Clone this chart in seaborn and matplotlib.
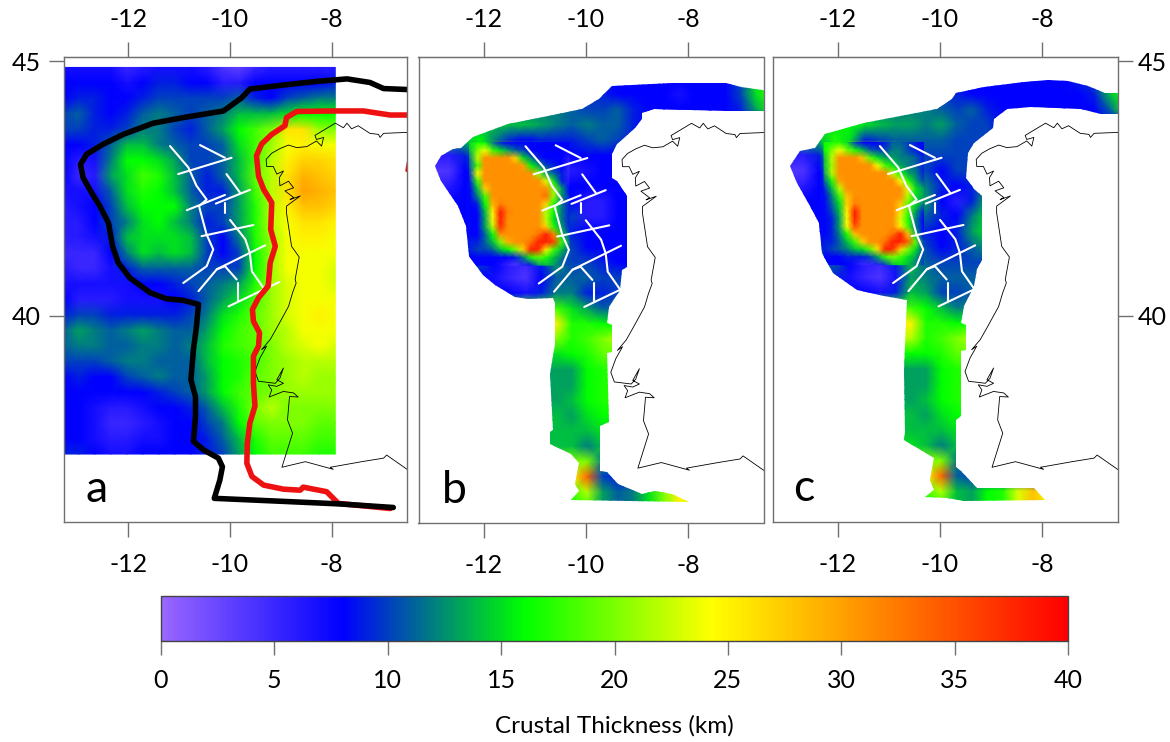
import matplotlib
matplotlib.use('Agg')
import matplotlib.pyplot as plt
import numpy as np
import pandas as pd
import seaborn as sns
from matplotlib.colors import LinearSegmentedColormap
from matplotlib.patches import Polygon
from matplotlib.transforms import Affine2D

# Tick values
lon_ticks = [-12, -10, -8]
lat_ticks = [40, 45]
thickness_ticks = [0, 5, 10, 15, 20, 25, 30, 35, 40]

# Colour scale stops
cmap_values = [0, 8, 16, 24.3, 40]
cmap_colors = ['#9966ff', '#0000ff', '#00ff00', '#ffff00', '#ff0000']

# Black and red contours of panel a
black_lon = [-6.49, -6.98, -7.25, -7.70, -8.30, -8.95, -9.61, -9.77, -10.13, -10.92, -11.51, -12.10, -12.49, -12.82,
             -12.94, -12.89, -12.72, -12.56, -12.39, -12.31, -12.20, -11.97, -11.57, -11.25, -10.92, -10.62, -10.66,
             -10.72, -10.77, -10.68, -10.68, -10.72, -10.52, -10.23, -10.15, -10.20, -10.31, -8.95, -7.84, -6.79]
black_lat = [44.44, 44.46, 44.58, 44.65, 44.60, 44.53, 44.45, 44.28, 44.02, 43.89, 43.78, 43.56, 43.37, 43.17,
             42.97, 42.71, 42.41, 42.15, 41.82, 41.36, 41.04, 40.74, 40.45, 40.33, 40.30, 40.22, 39.79,
             39.33, 38.74, 38.41, 38.02, 37.53, 37.36, 37.20, 37.03, 36.77, 36.41, 36.35, 36.30, 36.23]
red_lon = [-6.49, -6.85, -7.38, -7.97, -8.69, -8.89, -8.92, -9.18, -9.38, -9.48, -9.44, -9.34, -9.18, -9.20, -9.11,
           -9.21, -9.25, -9.44, -9.56, -9.54, -9.42, -9.44, -9.54, -9.54, -9.51, -9.61, -9.66, -9.67, -9.57, -9.34,
           -8.95, -8.62, -8.56, -8.10, -7.87, -6.85]
red_lat = [43.94, 43.94, 44.02, 44.02, 44.01, 43.89, 43.73, 43.56, 43.37, 43.14, 42.74, 42.48, 42.22, 41.69, 41.36,
           41.04, 40.58, 40.35, 40.12, 39.89, 39.66, 39.40, 39.20, 38.67, 38.22, 37.89, 37.49, 37.10, 36.84, 36.67,
           36.59, 36.57, 36.63, 36.54, 36.31, 36.21]
red_bit_lon = [-6.49, -6.52]
red_bit_lat = [43.02, 42.85]

# Coastline
coast_lon = [-6.49, -6.98, -7.05, -7.08, -7.25, -7.48, -7.61, -7.70, -7.77, -7.93, -8.33, -8.30, -8.16, -8.20, -8.30,
             -8.49, -8.69, -8.85, -9.02, -9.18, -9.29, -9.28, -9.15, -9.08, -8.95, -9.03, -9.02, -8.85, -8.75, -8.92,
             -8.75, -8.82, -8.62, -8.89, -8.89, -8.79, -8.64, -8.72, -8.70, -8.77, -8.85, -9.08, -9.21, -9.38, -9.28,
             -9.41, -9.51, -9.44, -9.11, -9.02, -8.95, -9.08, -8.95, -9.08, -9.25, -9.18, -9.23, -8.95, -8.75, -8.66,
             -8.83, -8.87, -8.77, -8.98, -8.52, -7.97, -8.03, -7.41, -6.98, -6.92, -6.49]
coast_lat = [43.60, 43.58, 43.50, 43.56, 43.58, 43.73, 43.67, 43.78, 43.69, 43.78, 43.54, 43.46, 43.50, 43.33, 43.43,
             43.32, 43.30, 43.35, 43.28, 43.19, 43.07, 42.93, 42.93, 42.78, 42.84, 42.71, 42.55, 42.64, 42.51, 42.45,
             42.32, 42.28, 42.35, 42.15, 42.02, 41.36, 41.15, 40.71, 40.64, 40.45, 40.18, 39.76, 39.53, 39.33, 39.40,
             39.17, 38.90, 38.71, 38.67, 38.77, 38.97, 38.74, 38.67, 38.61, 38.64, 38.54, 38.40, 38.51, 38.48, 38.40,
             38.41, 37.95, 37.69, 37.02, 37.13, 36.98, 37.02, 37.13, 37.20, 37.26, 36.96]

# White fault traces (lon, lat)
faults = [
    ([-11.18, -10.82, -10.66, -10.46, -10.61, -10.46, -10.33, -10.46, -10.92],
     [43.33, 42.91, 42.55, 42.28, 42.15, 41.59, 41.30, 40.97, 40.64]),
    ([-11.02, -9.97], [42.78, 43.10]),
    ([-10.59, -10.10], [43.35, 43.10]),
    ([-10.85, -10.10], [42.07, 42.37]),
    ([-10.28, -9.61], [42.20, 42.47]),
    ([-10.07, -9.80], [42.78, 42.41]),
    ([-10.10, -10.10], [42.22, 42.02]),
    ([-10.56, -9.54], [41.56, 41.78]),
    ([-10.00, -9.70, -9.61, -9.57, -9.34], [41.88, 41.50, 41.23, 40.87, 40.54]),
    ([-10.62, -10.26, -9.31], [40.48, 40.91, 41.38]),
    ([-10.26, -10.10, -9.87], [40.91, 40.97, 40.71]),
    ([-10.03, -9.03], [40.18, 40.66]),
    ([-9.84, -9.84], [40.64, 40.28]),
]

# Crustal thickness grids (km), rows north to south
thickness_a = [
    [7, 7, 7, 7, 5, 6, 7, 7, 7, 6, 4, 3, 5, 6, 6, 6, 6, 6],
    [8, 8, 8, 8, 7, 8, 9, 9, 8, 8, 6, 6, 8, 8, 8, 8, 8, 9],
    [8, 9, 9, 8, 8, 9, 10, 10, 10, 10, 10, 11, 9, 8, 10, 11, 12, 12],
    [10, 11, 9, 8, 9, 11, 12, 11, 10, 11, 12, 14, 14, 14, 15, 16, 16, 16],
    [10, 10, 9, 9, 10, 12, 12, 10, 9, 11, 13, 16, 18, 20, 26, 26, 21, 20],
    [8, 8, 9, 11, 14, 14, 12, 11, 10, 10, 11, 15, 18, 21, 24, 25, 24, 24],
    [8, 6, 7, 12, 16, 16, 15, 13, 10, 10, 11, 14, 18, 22, 25, 27, 27, 26],
    [8, 5, 6, 13, 15, 18, 17, 14, 11, 9, 11, 14, 19, 22, 26, 29, 28, 27],
    [7, 7, 7, 11, 15, 17, 16, 14, 11, 9, 9, 13, 18, 22, 26, 30, 29, 28],
    [6, 7, 8, 10, 14, 16, 16, 16, 12, 10, 10, 13, 17, 22, 25, 28, 28, 27],
    [6, 6, 8, 10, 12, 15, 16, 14, 12, 9, 10, 13, 17, 22, 24, 26, 26, 25],
    [6, 6, 7, 9, 14, 15, 15, 15, 14, 10, 8, 12, 17, 21, 24, 25, 25, 24],
    [5, 5, 5, 8, 12, 15, 14, 15, 14, 10, 8, 10, 16, 21, 24, 24, 24, 24],
    [6, 5, 5, 7, 9, 11, 11, 11, 11, 10, 10, 10, 16, 21, 24, 24, 24, 23],
    [7, 7, 7, 7, 7, 8, 8, 9, 10, 11, 12, 13, 17, 21, 23, 24, 24, 23],
    [8, 6, 6, 6, 7, 7, 7, 8, 9, 11, 13, 15, 18, 21, 23, 24, 24, 24],
    [9, 10, 10, 9, 9, 9, 9, 9, 10, 12, 15, 17, 19, 21, 23, 24, 25, 24],
    [11, 13, 12, 11, 12, 13, 12, 11, 11, 13, 16, 18, 19, 21, 22, 24, 24, 24],
    [11, 12, 12, 11, 11, 12, 12, 11, 12, 14, 17, 18, 19, 20, 22, 23, 24, 23],
    [10, 10, 10, 11, 12, 12, 11, 11, 11, 14, 16, 17, 18, 20, 21, 22, 22, 22],
    [8, 9, 8, 8, 10, 11, 12, 11, 11, 13, 16, 17, 19, 20, 21, 22, 21, 21],
    [8, 8, 8, 8, 8, 8, 9, 10, 11, 13, 16, 18, 19, 20, 21, 21, 21, 21],
    [8, 8, 7, 6, 6, 7, 8, 8, 9, 11, 14, 17, 20, 22, 20, 20, 20, 20],
    [8, 8, 7, 5, 5, 6, 7, 8, 8, 10, 12, 16, 19, 20, 20, 20, 19, 19],
    [8, 8, 7, 6, 6, 7, 7, 8, 8, 9, 11, 14, 17, 19, 19, 19, 18, 18],
    [9, 9, 8, 7, 7, 8, 8, 8, 8, 9, 10, 13, 16, 18, 18, 18, 17, 17],
]
thickness_b = [
    [9, 9, 9, 9, 9, 9, 9, 9, 9, 9, 9, 9, 9, 8, 8, 8, 8, 8, 8, 8, 8, 10, 15, 17],
    [10, 10, 10, 10, 10, 10, 10, 10, 10, 10, 10, 10, 9, 8, 8, 8, 8, 7, 8, 8, 8, 10, 15, 18],
    [12, 12, 12, 12, 12, 12, 12, 12, 12, 12, 11, 10, 10, 11, 9, 8, 8, 8, 8, 8, 8, 9, 13, 17],
    [14, 14, 14, 14, 13, 14, 14, 14, 13, 12, 11, 12, 11, 11, 9, 8, 8, 8, 8, 8, 8, 8, 8, 8],
    [8, 10, 12, 14, 16, 12, 9, 8, 9, 9, 9, 10, 11, 10, 9, 8, 8, 8, 8, 8, 8, 8, 8, 8],
    [6, 6, 6, 9, 12, 31, 30, 18, 13, 9, 8, 8, 8, 8, 8, 8, 8, 8, 8, 8, 8, 8, 8, 8],
    [4, 4, 4, 8, 9, 31, 31, 31, 20, 8, 6, 7, 8, 8, 8, 8, 8, 8, 8, 8, 8, 8, 8, 8],
    [5, 5, 6, 8, 9, 31, 31, 31, 30, 8, 8, 8, 8, 8, 8, 8, 8, 8, 8, 8, 8, 8, 8, 8],
    [7, 7, 8, 8, 9, 28, 31, 31, 30, 7, 8, 6, 6, 8, 8, 8, 8, 8, 8, 8, 8, 8, 8, 8],
    [8, 8, 8, 8, 9, 36, 31, 31, 24, 9, 10, 6, 6, 8, 8, 8, 8, 8, 8, 8, 8, 8, 8, 8],
    [8, 8, 8, 8, 9, 30, 29, 31, 37, 10, 9, 8, 8, 8, 8, 8, 8, 8, 8, 8, 8, 8, 8, 8],
    [9, 9, 9, 9, 9, 17, 24, 33, 38, 12, 10, 8, 8, 8, 8, 8, 8, 8, 8, 8, 8, 8, 8, 8],
    [10, 10, 10, 10, 10, 8, 6, 5, 9, 13, 10, 10, 9, 8, 8, 8, 8, 8, 8, 8, 8, 8, 8, 8],
    [8, 8, 8, 8, 8, 7, 5, 4, 8, 11, 11, 11, 10, 10, 10, 10, 10, 10, 10, 10, 10, 10, 10, 10],
    [8, 8, 8, 8, 8, 8, 8, 7, 9, 12, 12, 9, 9, 10, 10, 10, 10, 10, 10, 10, 10, 10, 10, 10],
    [18, 18, 18, 18, 18, 18, 18, 18, 18, 18, 15, 13, 11, 11, 11, 11, 11, 11, 11, 11, 11, 11, 11, 11],
    [25, 25, 25, 25, 25, 25, 25, 25, 25, 25, 17, 17, 16, 16, 16, 16, 16, 16, 16, 16, 16, 16, 16, 16],
    [21, 21, 21, 21, 21, 21, 21, 21, 21, 20, 17, 18, 20, 22, 22, 22, 22, 22, 22, 22, 22, 22, 22, 22],
    [15, 15, 15, 15, 15, 15, 15, 15, 15, 15, 16, 17, 19, 19, 19, 19, 19, 19, 19, 19, 19, 19, 19, 19],
    [13, 13, 13, 13, 13, 13, 13, 13, 13, 13, 13, 16, 17, 17, 17, 17, 17, 17, 17, 17, 17, 17, 17, 17],
    [13, 13, 13, 13, 13, 13, 13, 13, 13, 13, 13, 16, 17, 17, 17, 17, 17, 17, 17, 17, 17, 17, 17, 17],
    [13, 13, 13, 13, 13, 13, 13, 13, 13, 13, 14, 16, 17, 17, 17, 17, 17, 17, 17, 17, 17, 17, 17, 17],
    [14, 14, 14, 14, 14, 14, 14, 14, 14, 14, 13, 15, 16, 16, 16, 16, 16, 16, 16, 16, 16, 16, 16, 16],
    [14, 14, 14, 14, 14, 14, 14, 14, 14, 14, 14, 14, 15, 15, 15, 15, 15, 15, 15, 15, 15, 15, 15, 15],
    [14, 14, 14, 14, 14, 14, 14, 14, 14, 14, 14, 12, 14, 14, 14, 14, 14, 14, 14, 14, 14, 14, 14, 14],
    [20, 20, 20, 20, 20, 20, 20, 20, 20, 20, 20, 20, 12, 12, 12, 12, 12, 12, 12, 12, 12, 12, 12, 12],
    [24, 24, 24, 24, 24, 24, 24, 24, 24, 24, 24, 34, 10, 9, 9, 9, 9, 9, 9, 9, 9, 9, 9, 9],
    [18, 18, 18, 18, 18, 18, 18, 18, 18, 18, 18, 22, 13, 11, 12, 15, 20, 25, 23, 23, 23, 23, 23, 23],
    [16, 16, 16, 16, 16, 16, 16, 16, 16, 16, 16, 18, 13, 11, 12, 15, 20, 25, 23, 23, 23, 23, 23, 23],
]
thickness_c = [
    [9, 9, 9, 9, 9, 9, 9, 9, 9, 9, 9, 9, 9, 8, 8, 8, 8, 8, 8, 8, 9, 10, 14, 16],
    [10, 10, 10, 10, 10, 10, 10, 10, 10, 10, 10, 10, 9, 8, 8, 8, 8, 8, 8, 8, 8, 9, 14, 17],
    [12, 12, 12, 12, 12, 12, 12, 12, 12, 12, 12, 11, 10, 11, 9, 8, 8, 8, 8, 8, 8, 8, 11, 17],
    [15, 15, 15, 15, 15, 16, 15, 14, 13, 13, 12, 13, 11, 10, 10, 8, 8, 8, 8, 8, 8, 8, 8, 8],
    [10, 12, 13, 14, 17, 15, 9, 10, 11, 11, 11, 11, 10, 10, 10, 8, 8, 8, 8, 8, 8, 8, 8, 8],
    [6, 6, 6, 9, 16, 31, 30, 21, 15, 10, 10, 10, 10, 10, 10, 8, 8, 8, 8, 8, 8, 8, 8, 8],
    [4, 4, 4, 8, 12, 31, 31, 31, 21, 10, 10, 8, 10, 10, 10, 8, 8, 8, 8, 8, 8, 8, 8, 8],
    [5, 5, 6, 8, 10, 31, 31, 31, 31, 10, 12, 9, 8, 9, 12, 8, 8, 8, 8, 8, 8, 8, 8, 8],
    [7, 7, 8, 8, 9, 28, 31, 31, 29, 11, 13, 8, 6, 9, 14, 8, 8, 8, 8, 8, 8, 8, 8, 8],
    [8, 8, 8, 8, 9, 36, 31, 31, 24, 12, 11, 9, 8, 12, 15, 8, 8, 8, 8, 8, 8, 8, 8, 8],
    [8, 8, 8, 8, 9, 30, 28, 31, 37, 10, 9, 8, 9, 13, 15, 8, 8, 8, 8, 8, 8, 8, 8, 8],
    [9, 9, 9, 9, 9, 18, 24, 33, 38, 12, 10, 8, 9, 11, 13, 8, 8, 8, 8, 8, 8, 8, 8, 8],
    [11, 11, 11, 11, 11, 8, 6, 5, 9, 14, 11, 10, 10, 10, 10, 8, 8, 8, 8, 8, 8, 8, 8, 8],
    [9, 9, 9, 9, 9, 7, 5, 4, 7, 13, 12, 11, 11, 11, 11, 11, 11, 11, 11, 11, 11, 11, 11, 11],
    [8, 8, 8, 8, 8, 8, 8, 7, 9, 14, 13, 10, 10, 11, 11, 11, 11, 11, 11, 11, 11, 11, 11, 11],
    [18, 18, 18, 18, 18, 18, 18, 18, 18, 18, 16, 14, 12, 12, 12, 12, 12, 12, 12, 12, 12, 12, 12, 12],
    [25, 25, 25, 25, 25, 25, 25, 25, 25, 25, 17, 17, 16, 16, 16, 16, 16, 16, 16, 16, 16, 16, 16, 16],
    [22, 22, 22, 22, 22, 22, 22, 22, 22, 22, 17, 18, 20, 22, 22, 22, 22, 22, 22, 22, 22, 22, 22, 22],
    [16, 16, 16, 16, 16, 16, 16, 16, 16, 16, 16, 17, 19, 19, 19, 19, 19, 19, 19, 19, 19, 19, 19, 19],
    [13, 13, 13, 13, 13, 13, 13, 13, 13, 13, 13, 16, 17, 17, 17, 17, 17, 17, 17, 17, 17, 17, 17, 17],
    [13, 13, 13, 13, 13, 13, 13, 13, 13, 13, 13, 16, 17, 17, 17, 17, 17, 17, 17, 17, 17, 17, 17, 17],
    [13, 13, 13, 13, 13, 13, 13, 13, 13, 13, 14, 16, 17, 17, 17, 17, 17, 17, 17, 17, 17, 17, 17, 17],
    [14, 14, 14, 14, 14, 14, 14, 14, 14, 14, 13, 15, 16, 16, 16, 16, 16, 16, 16, 16, 16, 16, 16, 16],
    [14, 14, 14, 14, 14, 14, 14, 14, 14, 14, 14, 14, 15, 15, 15, 15, 15, 15, 15, 15, 15, 15, 15, 15],
    [15, 15, 15, 15, 15, 15, 15, 15, 15, 15, 14, 12, 14, 14, 14, 14, 14, 14, 14, 14, 14, 14, 14, 14],
    [20, 20, 20, 20, 20, 20, 20, 20, 20, 20, 20, 20, 12, 12, 12, 12, 12, 12, 12, 12, 12, 12, 12, 12],
    [24, 24, 24, 24, 24, 24, 24, 24, 24, 24, 24, 34, 11, 10, 10, 10, 10, 10, 10, 10, 10, 10, 10, 10],
    [18, 18, 18, 18, 18, 18, 18, 18, 18, 18, 18, 22, 14, 13, 16, 17, 23, 28, 24, 24, 24, 24, 24, 24],
    [16, 16, 16, 16, 16, 16, 16, 16, 16, 16, 16, 17, 14, 13, 16, 17, 23, 28, 24, 24, 24, 24, 24, 24],
]

# Finer grids over the thick crust block of panels b and c
core_b = [
    [15, 17, 16, 12, 9, 8, 8, 8, 8, 8, 8, 8, 8, 8],
    [14, 20, 24, 18, 15, 13, 11, 10, 8, 8, 8, 8, 8, 8],
    [12, 22, 31, 31, 31, 31, 27, 15, 12, 9, 8, 8, 8, 6],
    [11, 18, 31, 31, 31, 31, 31, 30, 16, 13, 10, 9, 8, 5],
    [10, 24, 31, 31, 31, 31, 31, 31, 31, 20, 13, 11, 9, 5],
    [9, 18, 31, 31, 31, 31, 31, 31, 31, 31, 23, 15, 9, 6],
    [8, 14, 27, 31, 31, 31, 31, 31, 31, 31, 31, 20, 13, 8],
    [8, 12, 18, 31, 31, 31, 31, 31, 31, 31, 33, 21, 13, 9],
    [8, 9, 16, 29, 32, 31, 31, 31, 31, 31, 27, 17, 12, 9],
    [8, 8, 14, 25, 38, 32, 31, 31, 31, 31, 22, 16, 12, 9],
    [8, 8, 13, 24, 38, 31, 31, 31, 31, 31, 22, 15, 12, 9],
    [8, 8, 13, 22, 37, 31, 31, 31, 31, 31, 27, 17, 13, 9],
    [8, 8, 11, 16, 31, 31, 31, 31, 31, 33, 38, 32, 15, 10],
    [9, 9, 11, 14, 20, 29, 31, 31, 33, 38, 38, 36, 18, 12],
    [9, 10, 10, 11, 14, 16, 20, 27, 38, 37, 25, 18, 14, 11],
    [8, 8, 8, 8, 8, 8, 9, 12, 17, 19, 17, 14, 12, 10],
    [8, 8, 8, 8, 7, 5, 4, 6, 9, 13, 14, 13, 11, 10],
]
core_c = [
    [16, 17, 17, 15, 10, 8, 8, 8, 9, 11, 11, 10, 9, 8],
    [16, 20, 24, 20, 17, 14, 11, 10, 10, 12, 12, 10, 9, 8],
    [14, 22, 31, 31, 31, 28, 19, 15, 13, 13, 12, 12, 11, 9],
    [14, 21, 31, 31, 31, 31, 31, 24, 18, 15, 13, 12, 11, 9],
    [13, 22, 31, 31, 31, 31, 31, 31, 31, 22, 16, 13, 12, 9],
    [11, 17, 30, 31, 31, 31, 31, 31, 31, 31, 24, 17, 13, 10],
    [9, 14, 22, 31, 31, 31, 31, 31, 31, 31, 31, 23, 15, 13],
    [8, 12, 18, 28, 31, 31, 31, 31, 31, 31, 31, 22, 15, 13],
    [8, 11, 15, 27, 32, 31, 31, 31, 31, 31, 28, 19, 15, 12],
    [8, 10, 14, 25, 38, 31, 31, 31, 31, 31, 26, 18, 13, 9],
    [8, 9, 13, 24, 38, 31, 31, 31, 31, 31, 23, 17, 12, 8],
    [8, 9, 13, 24, 35, 31, 31, 31, 31, 31, 25, 18, 12, 8],
    [8, 9, 12, 17, 28, 31, 31, 31, 31, 33, 38, 28, 14, 8],
    [9, 9, 11, 14, 18, 27, 31, 31, 33, 38, 38, 34, 19, 10],
    [9, 10, 11, 12, 14, 15, 19, 26, 38, 37, 27, 20, 15, 10],
    [8, 8, 8, 9, 9, 9, 10, 13, 18, 20, 18, 15, 13, 10],
    [8, 8, 8, 8, 7, 5, 5, 6, 10, 14, 15, 14, 12, 10],
]

# Outline of the data coverage in panels b and c
outline_b_lon = [-9.49, -8.31, -7.26, -6.96, -6.41, -6.41, -7.23, -8.67, -8.90, -8.90, -9.03, -9.26, -9.39, -9.49, -9.49,
                 -9.39, -9.19, -9.19, -9.29, -9.32, -9.55, -9.59, -9.49, -9.49, -9.59, -9.55, -9.72, -9.72, -9.59, -9.36,
                 -8.90, -8.64, -8.31, -7.98, -10.28, -10.14, -10.21, -10.14, -10.28, -10.70, -10.70, -10.64, -10.70,
                 -10.60, -10.60, -10.64, -11.13, -11.39, -11.78, -12.01, -12.28, -12.34, -12.50, -12.83, -12.96, -12.83,
                 -12.60, -12.44, -12.21, -11.52, -10.73, -10.08, -9.75]
outline_b_lat = [44.51, 44.58, 44.58, 44.50, 44.42, 44.02, 44.02, 44.06, 43.99, 43.86, 43.69, 43.50, 43.37, 43.17, 42.71,
                 42.64, 42.35, 40.97, 40.91, 40.51, 40.18, 39.86, 39.82, 39.30, 39.27, 37.92, 37.85, 36.97, 36.94, 36.71,
                 36.51, 36.57, 36.52, 36.36, 36.40, 36.57, 36.71, 37.13, 37.30, 37.49, 37.72, 37.76, 38.87,
                 39.46, 40.25, 40.35, 40.33, 40.38, 40.61, 40.81, 41.17, 41.76, 42.15, 42.64, 42.94, 43.14,
                 43.28, 43.30, 43.52, 43.76, 43.92, 44.06, 44.25]
outline_c_lon = [-9.69, -9.13, -8.35, -7.89, -7.50, -7.10, -6.77, -6.38, -6.38, -6.84, -7.23, -8.22, -8.68, -8.94, -8.97,
                 -9.33, -9.46, -9.50, -9.33, -9.17, -9.17, -9.27, -9.33, -9.53, -9.59, -9.50, -9.50, -9.59, -9.59, -9.69,
                 -9.69, -9.59, -9.27, -8.15, -7.95, -9.53, -9.86, -10.30, -10.12, -10.20, -10.12, -10.71, -10.68, -10.71,
                 -10.64, -11.10, -11.63, -12.09, -12.31, -12.38, -12.54, -12.81, -12.95, -12.74, -12.45, -12.25, -11.50,
                 -10.05, -9.76]
outline_c_lat = [44.38, 44.49, 44.58, 44.63, 44.61, 44.51, 44.38, 44.38, 43.96, 43.96, 44.06, 44.09, 44.06, 43.86, 43.69,
                 43.40, 43.20, 42.71, 42.48, 42.35, 41.10, 40.91, 40.58, 40.18, 39.86, 39.82, 39.33, 39.30, 38.02, 37.95,
                 37.03, 36.94, 36.61, 36.61, 36.38, 36.36, 36.41, 36.44, 36.57, 36.77, 37.20, 37.56, 37.72, 38.94,
                 40.31, 40.38, 40.51, 40.84, 41.23, 41.82, 42.15, 42.61, 42.94, 43.23, 43.30, 43.56, 43.79,
                 44.06, 44.25]

W, H = 1170, 742
xlim = (-13.275, -6.52)
ylim = (35.945, 45.08)
line_gray = '#707070'

sns.set_style('white')
plt.rcParams['font.family'] = 'Lato'
plt.rcParams['text.color'] = 'black'
plt.rcParams['axes.labelcolor'] = 'black'

cmap = LinearSegmentedColormap.from_list(
    'crust', [(v / 40, c) for v, c in zip(cmap_values, cmap_colors)], N=256)

fig = plt.figure(figsize=(W / 100, H / 100), dpi=100)


def add_axes_px(left, right, top, bottom):
    return fig.add_axes([left / W, 1 - bottom / H, (right - left) / W, (bottom - top) / H])


def add_grid(ax, grid, lon0, lat0, dlon, dlat, outline=None):
    sns.heatmap(pd.DataFrame(grid), ax=ax, cmap=cmap, vmin=0, vmax=40, cbar=False,
                shading='gouraud', xticklabels=False, yticklabels=False)
    mesh = ax.collections[-1]
    # heatmap cell indices -> lon/lat
    mesh.set_transform(Affine2D().scale(dlon, -dlat).translate(lon0, lat0) + ax.transData)
    if outline is not None:
        mesh.set_clip_path(Polygon(np.column_stack(outline), closed=True, transform=ax.transData))


def add_lines(ax):
    sns.lineplot(x=coast_lon, y=coast_lat, ax=ax, sort=False, estimator=None, color='black', linewidth=0.6)
    for f_lon, f_lat in faults:
        sns.lineplot(x=f_lon, y=f_lat, ax=ax, sort=False, estimator=None, color='white', linewidth=1.5)


def style_axes(ax):
    ax.set_xlim(xlim)
    ax.set_ylim(ylim)
    ax.set_xticks(lon_ticks, [str(t) for t in lon_ticks])
    ax.set_yticks(lat_ticks, [str(t) for t in lat_ticks])
    ax.tick_params(axis='x', bottom=True, top=False, length=10.8, width=1, color=line_gray,
                   labelsize=18, pad=11.5, labelcolor='black')
    ax.tick_params(axis='y', length=10.8, width=1, color=line_gray, labelsize=18, pad=5.8, labelcolor='black')
    top_ax = ax.secondary_xaxis('top')
    top_ax.set_xticks(lon_ticks, [str(t) for t in lon_ticks])
    top_ax.tick_params(axis='x', length=10.8, width=1, color=line_gray, labelsize=18, pad=8, labelcolor='black')
    top_ax.spines['top'].set_color(line_gray)
    for s in ax.spines.values():
        s.set_visible(True)
        s.set_color(line_gray)
        s.set_linewidth(1)


# Panel a
ax_a = add_axes_px(63.5, 407, 57, 522)
add_grid(ax_a, thickness_a, -13.29, 44.875, 0.3153, 0.3038)
add_lines(ax_a)
sns.lineplot(x=red_lon, y=red_lat, ax=ax_a, sort=False, estimator=None, color='#ee1111', linewidth=4,
             solid_joinstyle='round')
sns.lineplot(x=red_bit_lon, y=red_bit_lat, ax=ax_a, sort=False, estimator=None, color='#ee1111', linewidth=2.5)
sns.lineplot(x=black_lon, y=black_lat, ax=ax_a, sort=False, estimator=None, color='black', linewidth=4,
             solid_joinstyle='round', solid_capstyle='round')
style_axes(ax_a)
ax_a.tick_params(axis='y', left=True, right=False, labelleft=True, labelright=False)
ax_a.text(0.064, 0.043, 'a', transform=ax_a.transAxes, fontsize=32, va='baseline')

# Panel b
ax_b = add_axes_px(418.5, 763.5, 57, 523)
outline_b = (outline_b_lon, outline_b_lat)
add_grid(ax_b, thickness_b, -13.27, 44.65, 0.3, 0.3, outline_b)
add_grid(ax_b, core_b, -12.275, 43.40, 0.15, 0.15, outline_b)
add_lines(ax_b)
style_axes(ax_b)
ax_b.tick_params(axis='y', left=False, right=False, labelleft=False, labelright=False)
ax_b.text(0.067, 0.043, 'b', transform=ax_b.transAxes, fontsize=32, va='baseline')

# Panel c
ax_c = add_axes_px(773, 1117.5, 57, 522)
outline_c = (outline_c_lon, outline_c_lat)
add_grid(ax_c, thickness_c, -13.27, 44.65, 0.3, 0.3, outline_c)
add_grid(ax_c, core_c, -12.275, 43.40, 0.15, 0.15, outline_c)
add_lines(ax_c)
style_axes(ax_c)
ax_c.tick_params(axis='y', left=False, right=True, labelleft=False, labelright=True, pad=3.6)
ax_c.text(0.058, 0.045, 'c', transform=ax_c.transAxes, fontsize=32, va='baseline')

# Colour bar
cax = add_axes_px(161, 1068, 596, 641)
dummy = fig.add_axes([0, 0, 0.01, 0.01])
sns.heatmap(pd.DataFrame([[0, 40]]), ax=dummy, cmap=cmap, vmin=0, vmax=40, cbar_ax=cax,
            cbar_kws={'orientation': 'horizontal', 'ticks': thickness_ticks})
dummy.set_visible(False)
cb = dummy.collections[0].colorbar
cb.outline.set_linewidth(1)
cb.outline.set_edgecolor('#444444')
cb.ax.tick_params(axis='x', bottom=True, length=10, width=1, color=line_gray, labelsize=18, pad=10, labelcolor='black')
cb.ax.set_xlabel('Crustal Thickness (km)', fontsize=17.5, labelpad=17)

fig.savefig('out.png', dpi=100)
plt.close()
